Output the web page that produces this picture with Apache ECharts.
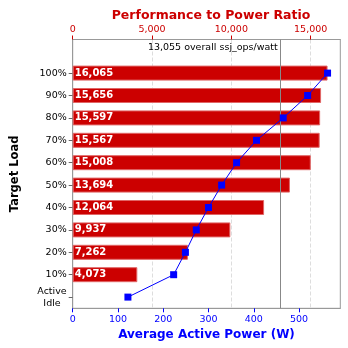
<!DOCTYPE html>
<html>
<head>
<meta charset="utf-8">
<script src="https://cdn.jsdelivr.net/npm/echarts@6/dist/echarts.min.js"></script>
<style>html,body{margin:0;padding:0;background:#fff}#c{width:348px;height:348px}</style>
</head>
<body>
<div id="c"></div>
<script>
// Data
const loadLabels = ['', '100%', '90%', '80%', '70%', '60%', '50%', '40%', '30%', '20%', '10%', 'Active\nIdle'];
const perfToPower = [null, 16065, 15656, 15597, 15567, 15008, 13694, 12064, 9937, 7262, 4073, null];
const avgPower = [null, 563, 519, 465, 406, 362, 329, 300, 273, 249, 223, 122];
const overallRatio = 13055;
const ratioTicks = [0, 5000, 10000, 15000];
const powerTicks = [0, 100, 200, 300, 400, 500];

const FONT = 'DejaVu Sans';
const RED = '#CC0000';
const BLUE = '#0000FF';
const fmt = v => String(v).replace(/\B(?=(\d{3})+(?!\d))/g, ',');

const ratioMax = Math.max(...perfToPower.filter(v => v != null)) * 1.05;
const powerMax = Math.max(...avgPower.filter(v => v != null)) * 1.05;

const linePts = [];
avgPower.forEach((p, i) => { if (p != null) linePts.push([p, i]); });

const chart = echarts.init(document.getElementById('c'), null, {renderer: 'canvas'});
chart.setOption({
  animation: false,
  textStyle: {fontFamily: FONT},
  title: {
    text: 'Performance to Power Ratio',
    left: 206, top: 4, textAlign: 'center',
    textStyle: {color: RED, fontSize: 12.5, fontWeight: 'bold', fontFamily: FONT}
  },
  grid: {left: 72.7, right: 7.7, top: 39.5, bottom: 39.7, show: true, borderColor: '#999', borderWidth: 1},
  xAxis: [
    {
      type: 'value', position: 'bottom', min: 0, max: powerMax, interval: 100,
      name: 'Average Active Power (W)', nameLocation: 'middle', nameGap: 19,
      nameTextStyle: {color: BLUE, fontSize: 12, fontWeight: 'bold', fontFamily: FONT},
      axisLine: {show: true, lineStyle: {color: '#999'}},
      axisTick: {show: true, length: 4, customValues: powerTicks, lineStyle: {color: BLUE}},
      axisLabel: {color: BLUE, fontSize: 9.5, margin: 6, fontFamily: FONT, customValues: powerTicks,
        formatter: v => String(v)},
      splitLine: {show: false}
    },
    {
      type: 'value', position: 'top', min: 0, max: ratioMax, interval: 5000,
      axisLine: {show: true, lineStyle: {color: '#999'}},
      axisTick: {show: true, length: 4, customValues: ratioTicks, lineStyle: {color: RED}},
      axisLabel: {color: RED, fontSize: 9.5, margin: 5, fontFamily: FONT, customValues: ratioTicks,
        formatter: v => fmt(v)},
      splitLine: {show: true, lineStyle: {color: '#ddd', type: 'dashed', width: 1}}
    }
  ],
  yAxis: {
    type: 'category', inverse: true, data: loadLabels,
    name: 'Target Load', nameLocation: 'middle', nameGap: 52,
    nameTextStyle: {color: '#000', fontSize: 11.5, fontWeight: 'bold', fontFamily: FONT},
    axisLine: {show: true, lineStyle: {color: '#999'}},
    axisTick: {show: true, alignWithLabel: true, length: 4, lineStyle: {color: '#666'},
      interval: (i, v) => v !== ''},
    axisLabel: {color: '#000', fontSize: 9.5, margin: 6, fontFamily: FONT, interval: 0,
      formatter: v => v === '' ? '' : '{c|' + v.split('\n').join('}\n{c|') + '}',
      rich: {c: {align: 'center', fontSize: 9.5, fontFamily: FONT, color: '#000', lineHeight: 12}}},
    splitLine: {show: false}
  },
  series: [
    {
      type: 'bar', xAxisIndex: 1, yAxisIndex: 0,
      data: perfToPower.map(v => v == null ? '-' : v),
      barWidth: 15,
      itemStyle: {color: RED, borderColor: '#E06666', borderWidth: 1},
      label: {show: true, position: 'insideLeft', distance: 2, color: '#fff', fontWeight: 'bold',
        fontSize: 10, fontFamily: FONT, formatter: p => fmt(p.value)},
      markLine: {
        silent: true, symbol: 'none', animation: false,
        lineStyle: {color: '#888', type: 'solid', width: 1},
        label: {show: false},
        data: [{xAxis: overallRatio}]
      },
      markPoint: {
        silent: true, symbol: 'rect', symbolSize: 0,
        label: {show: true, position: 'left', distance: 2, offset: [0, -3], color: '#000',
          fontSize: 9.5, fontFamily: FONT,
          formatter: fmt(overallRatio) + ' overall ssj_ops/watt'},
        data: [{coord: [overallRatio, 0]}]
      },
      z: 2
    },
    {
      type: 'line', xAxisIndex: 0, yAxisIndex: 0,
      data: linePts,
      symbol: 'rect', symbolSize: 7,
      lineStyle: {color: BLUE, width: 1},
      itemStyle: {color: BLUE},
      z: 5
    }
  ]
});
</script>
</body>
</html>
